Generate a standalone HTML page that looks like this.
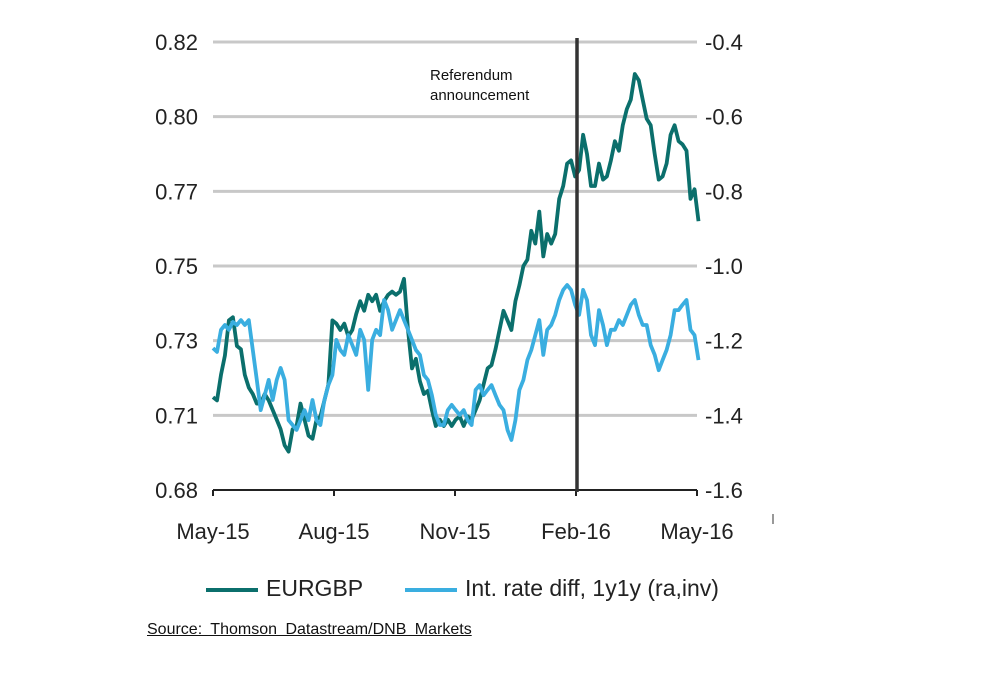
<!DOCTYPE html>
<html><head><meta charset="utf-8"><style>
body{margin:0;background:#fff;}
svg text{font-family:"Liberation Sans",Arial,sans-serif;}
</style></head><body>
<svg id="chart" width="986" height="672">
<g id="grid"></g><g id="series"></g><g id="axes"></g>
</svg>
<script>
const xLabels=["May-15","Aug-15","Nov-15","Feb-16","May-16"];
const leftTicks=["0.68","0.71","0.73","0.75","0.77","0.80","0.82"];
const rightTicks=["-1.6","-1.4","-1.2","-1.0","-0.8","-0.6","-0.4"];
const eurgbp=[0.709,0.708,0.716,0.722,0.733,0.734,0.725,0.724,0.716,0.712,0.710,0.707,0.707,0.710,0.708,0.705,0.702,0.699,0.694,0.692,0.699,0.700,0.707,0.702,0.697,0.696,0.702,0.703,0.708,0.713,0.733,0.732,0.730,0.732,0.728,0.730,0.735,0.739,0.736,0.741,0.739,0.741,0.736,0.739,0.741,0.742,0.741,0.742,0.746,0.730,0.718,0.721,0.714,0.710,0.711,0.705,0.700,0.702,0.700,0.702,0.700,0.702,0.703,0.700,0.703,0.702,0.705,0.708,0.713,0.718,0.719,0.724,0.730,0.736,0.733,0.730,0.739,0.744,0.750,0.752,0.761,0.757,0.767,0.753,0.760,0.757,0.760,0.771,0.775,0.782,0.783,0.778,0.780,0.791,0.785,0.775,0.775,0.782,0.777,0.778,0.783,0.789,0.786,0.794,0.799,0.802,0.810,0.808,0.802,0.796,0.794,0.785,0.777,0.778,0.782,0.791,0.794,0.789,0.788,0.786,0.771,0.774,0.764];
const rateDiff=[-1.220,-1.230,-1.171,-1.158,-1.171,-1.150,-1.158,-1.145,-1.158,-1.145,-1.225,-1.305,-1.386,-1.346,-1.305,-1.359,-1.305,-1.273,-1.305,-1.413,-1.426,-1.439,-1.413,-1.386,-1.413,-1.359,-1.413,-1.426,-1.359,-1.319,-1.292,-1.198,-1.225,-1.238,-1.185,-1.212,-1.238,-1.171,-1.198,-1.332,-1.198,-1.171,-1.185,-1.091,-1.118,-1.171,-1.145,-1.118,-1.145,-1.171,-1.198,-1.225,-1.238,-1.292,-1.305,-1.346,-1.399,-1.426,-1.426,-1.386,-1.372,-1.386,-1.399,-1.386,-1.413,-1.426,-1.332,-1.319,-1.346,-1.332,-1.319,-1.346,-1.372,-1.386,-1.439,-1.466,-1.413,-1.332,-1.305,-1.252,-1.225,-1.185,-1.145,-1.238,-1.171,-1.158,-1.131,-1.091,-1.064,-1.051,-1.064,-1.104,-1.131,-1.064,-1.091,-1.185,-1.212,-1.118,-1.158,-1.212,-1.171,-1.171,-1.145,-1.158,-1.131,-1.104,-1.091,-1.131,-1.158,-1.158,-1.212,-1.238,-1.279,-1.252,-1.225,-1.185,-1.118,-1.118,-1.104,-1.091,-1.171,-1.185,-1.252];
const eventIndex=3; // Feb-16 referendum announcement (in x-label units)
const X0=213,X1=697,Y0=490,Y1=42;
const xq=i=>X0+(X1-X0)*i/(xLabels.length-1);
const xs=(i,n)=>X0+(X1-X0)*i/(n-1)*1.003;
const yl=v=>Y0-(v-0.68)/(0.82-0.68)*(Y0-Y1);
const yr=v=>Y0-(v+1.6)/(1.2)*(Y0-Y1);
const NS="http://www.w3.org/2000/svg";
function mk(tag,attrs,parent,txt){const e=document.createElementNS(NS,tag);for(const k in attrs)e.setAttribute(k,attrs[k]);if(txt!=null)e.textContent=txt;document.getElementById(parent).appendChild(e);return e;}
const n=leftTicks.length;
for(let i=0;i<n;i++){
  const y=Y0-(Y0-Y1)*i/(n-1);
  if(i>0){const g=mk('line',{x1:X0,x2:X1,y1:y,y2:y,stroke:'#c8c8c8','stroke-width':3},'grid');
  
  }
  const t=mk('text',{x:198,y:y+8,'text-anchor':'end','font-size':22,fill:'#222'},'axes',leftTicks[i]);
  
  
  const r=mk('text',{x:705,y:y+8,'font-size':22,fill:'#222'},'axes',rightTicks[i]);
  
  
}
const ax=mk('line',{x1:X0,x2:X1,y1:Y0,y2:Y0,stroke:'#222','stroke-width':2},'axes');


xLabels.forEach((l,i)=>{
  const tk=mk('line',{x1:xq(i),x2:xq(i),y1:Y0,y2:Y0+6,stroke:'#222','stroke-width':2},'axes');
  
  
  const t=mk('text',{x:xq(i),y:539,'text-anchor':'middle','font-size':22,fill:'#222'},'axes',l);
  
  
});
function line(arr,sc,col,name){
  const d=arr.map((v,i)=>(i?'L':'M')+xs(i,arr.length).toFixed(1)+','+sc(v).toFixed(1)).join('');
  const p=mk('path',{d:d,fill:'none',stroke:col,'stroke-width':3.8,'stroke-linejoin':'round'},'series');
  
  
}
line(eurgbp,yl,'#0b6f6c','eurgbp-line');
line(rateDiff,yr,'#3aaee0','rate-diff-line');
const ev=mk('line',{x1:xq(eventIndex)+1,x2:xq(eventIndex)+1,y1:38,y2:492,stroke:'#333','stroke-width':3.5},'axes');


</script>
<div style="position:absolute;left:0;top:0;width:986px;height:672px;pointer-events:none">
<div style="position:absolute;left:430px;top:66px;font:15px 'Liberation Sans',sans-serif;color:#111;line-height:20px">Referendum<br>announcement</div>
<div style="position:absolute;left:206px;top:575px;font:23px 'Liberation Sans',sans-serif;color:#222;white-space:nowrap"><span style="display:inline-block;width:52px;height:4px;background:#0b6f6c;vertical-align:middle;margin-right:8px"></span>EURGBP</div>
<div style="position:absolute;left:405px;top:575px;font:23px 'Liberation Sans',sans-serif;color:#222;white-space:nowrap"><span style="display:inline-block;width:52px;height:4px;background:#3aaee0;vertical-align:middle;margin-right:8px"></span>Int. rate diff, 1y1y (ra,inv)</div>
<div style="position:absolute;left:147px;top:621px;font:16px 'Liberation Sans',sans-serif;color:#111;text-decoration:underline;word-spacing:4px">Source: Thomson Datastream/DNB Markets</div>
<div style="position:absolute;left:772px;top:514px;width:2px;height:10px;background:#999"></div>
</div>
</body></html>
